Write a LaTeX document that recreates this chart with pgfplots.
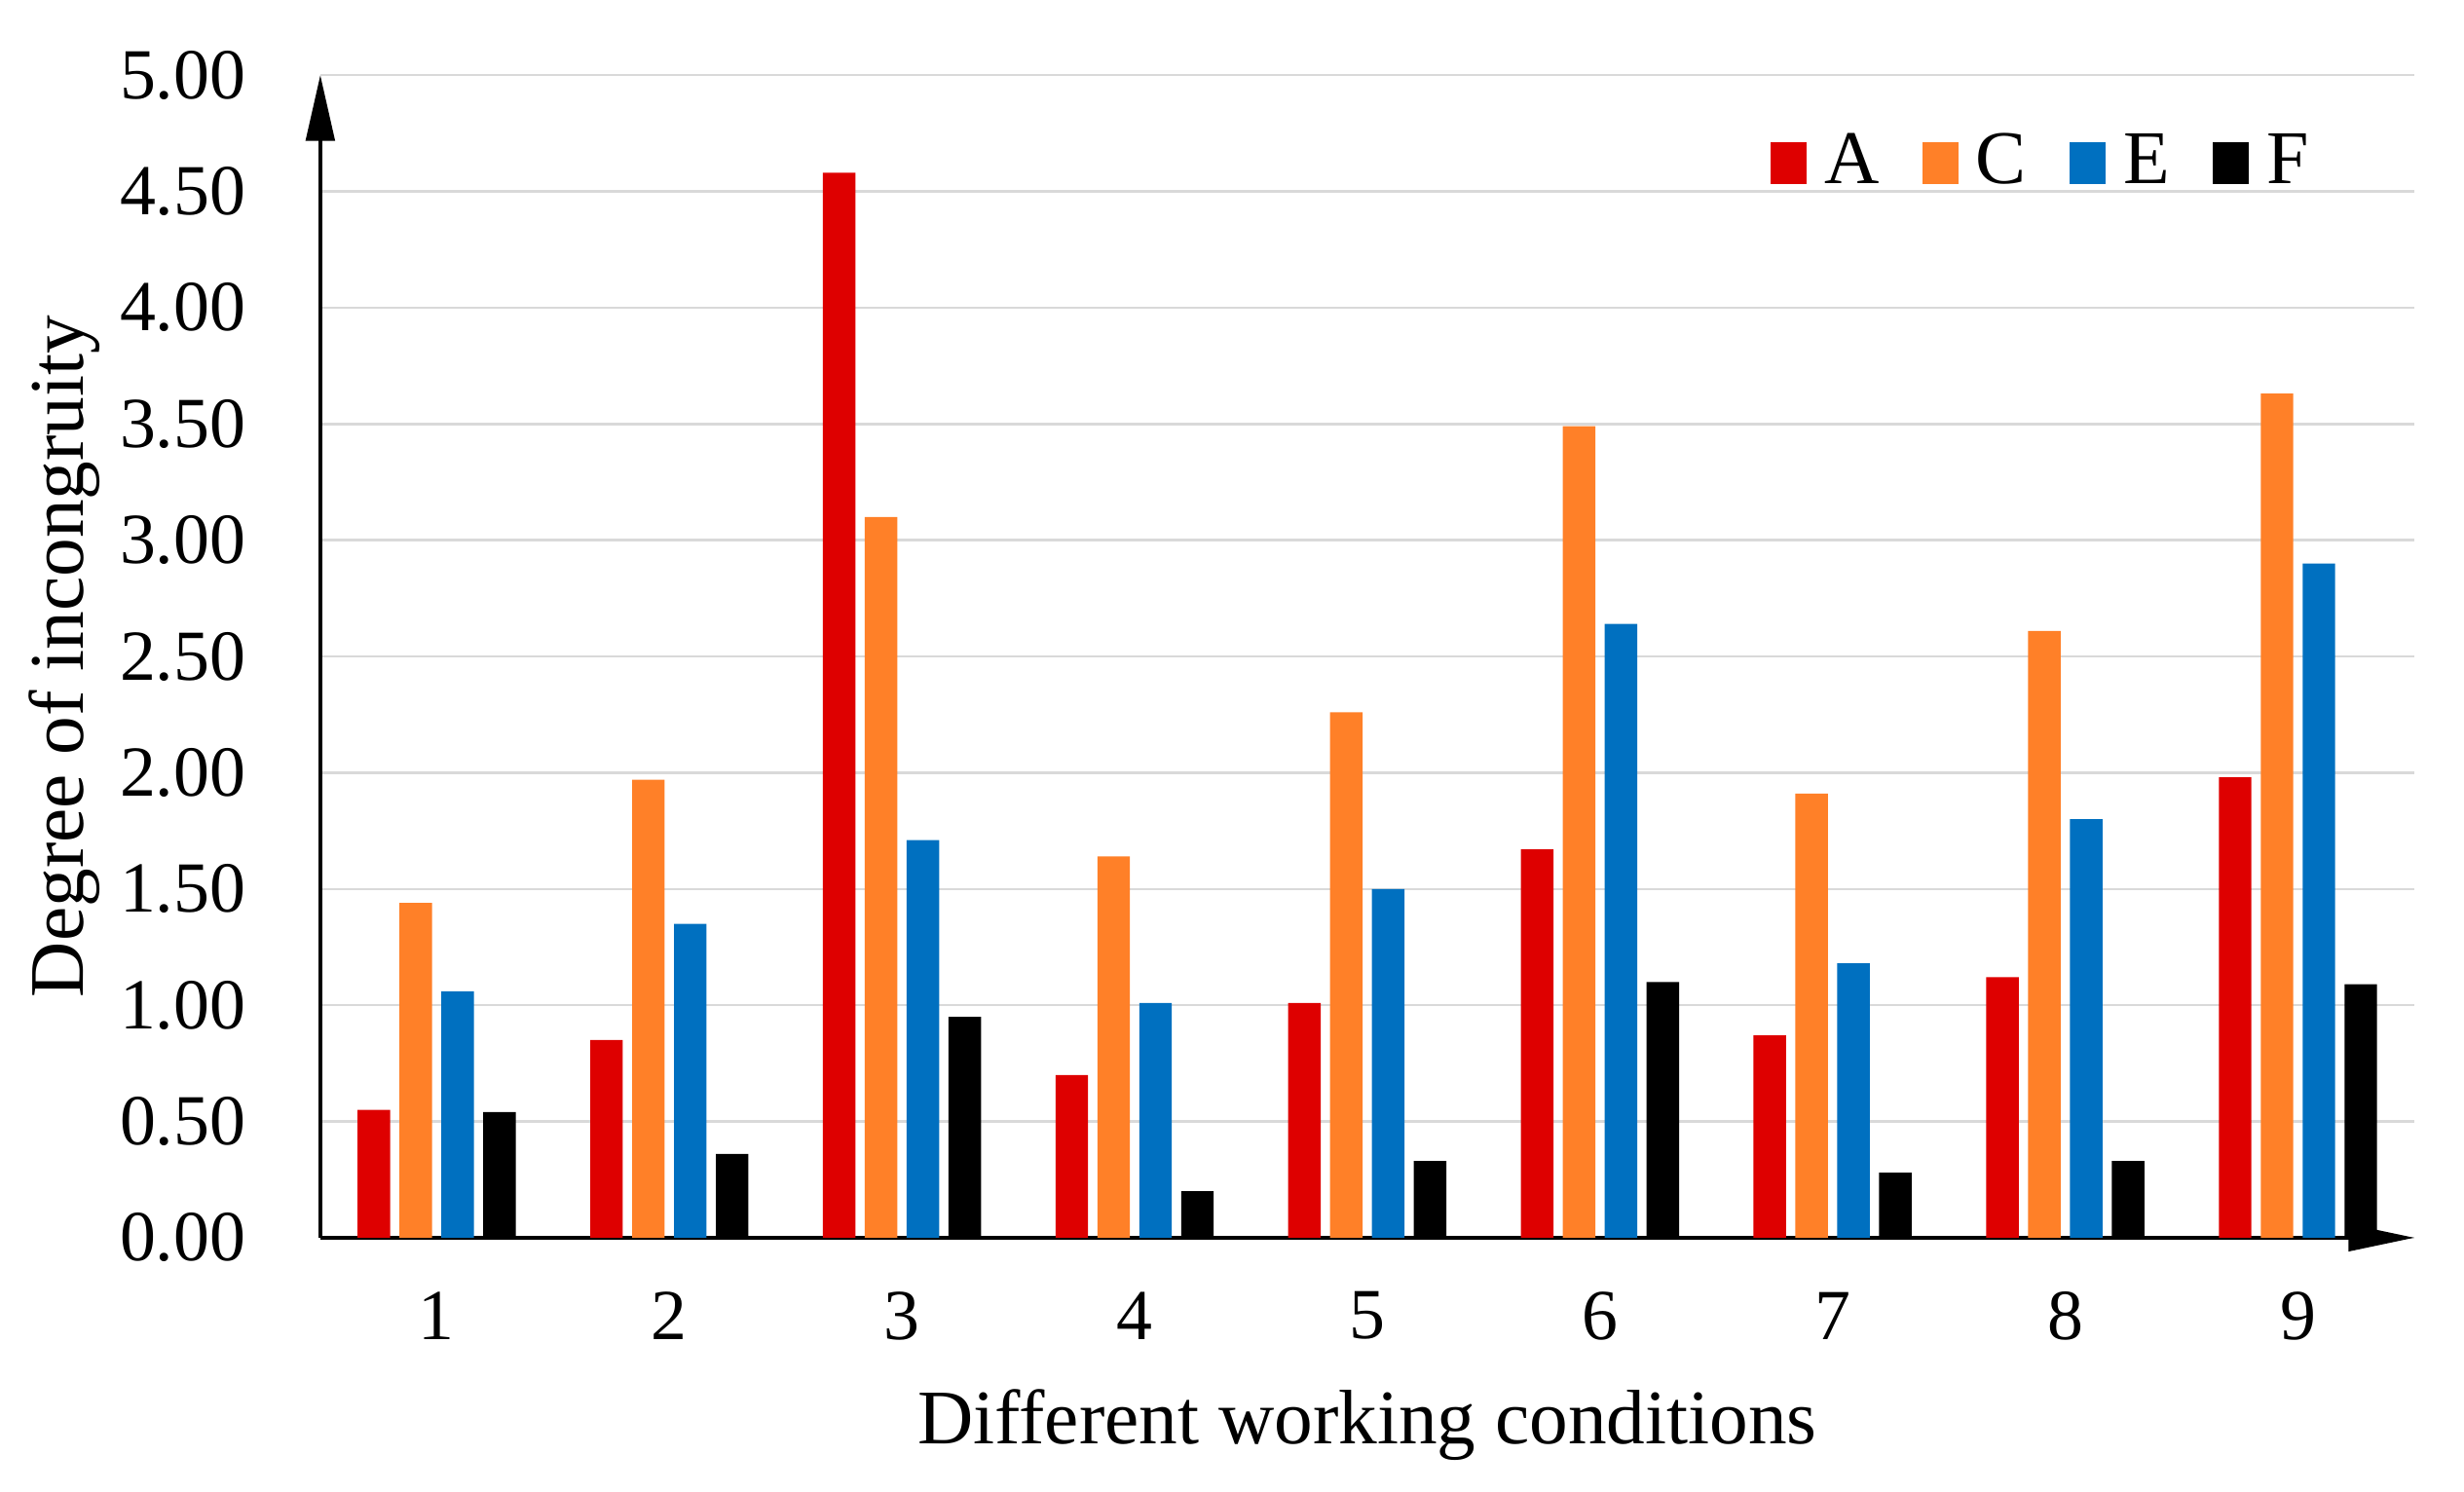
\documentclass[border=0pt]{standalone}
\usepackage{fontspec}
\setmainfont{Liberation Serif}
\usepackage{pgfplots}
\pgfplotsset{compat=1.18}
\usetikzlibrary{arrows.meta}
\definecolor{cA}{RGB}{222,0,0}
\definecolor{cC}{RGB}{255,128,40}
\definecolor{cE}{RGB}{0,112,192}
\definecolor{cF}{RGB}{0,0,0}
\definecolor{gridc}{RGB}{217,217,217}
\begin{document}
\begin{tikzpicture}
\begin{axis}[
  at={(0,0)}, anchor=south west,
  scale only axis, width=509.9pt, height=283.1pt,
  xmin=0.5, xmax=9.5, ymin=0, ymax=5,
  axis lines=left,
  axis line style={line width=0.8pt},
  x axis line style={-{Triangle[length=16pt,width=6.5pt]}},
  y axis line style={-{Triangle[length=16pt,width=7pt]}},
  xtick={1,2,3,4,5,6,7,8,9},
  ytick={0,0.5,1,1.5,2,2.5,3,3.5,4,4.5,5},
  major tick length=0pt,
  ymajorgrids,
  major grid style={gridc, line width=0.6pt},
  /pgf/number format/assume math mode=true,
  yticklabel style={/pgf/number format/fixed, /pgf/number format/fixed zerofill, /pgf/number format/precision=2},
  y tick label style={anchor=east, inner sep=0pt, xshift=-18pt, font=\fontsize{17.5}{20}\selectfont},
  x tick label style={anchor=center, inner sep=0pt, yshift=-19pt, font=\fontsize{17.5}{20}\selectfont},
  xlabel={Different working conditions},
  ylabel={Degree of incongruity},
  x label style={at={(axis description cs:0.5,0)}, anchor=base, yshift=-50.3pt, inner sep=0pt, font=\fontsize{18.8}{22}\selectfont},
  y label style={at={([xshift=-62.4pt]axis description cs:0,0.5)}, anchor=center, inner sep=0pt, font=\fontsize{18.8}{22}\selectfont},
  legend columns=4,
  legend style={at={(axis description cs:0.6925,0.950)}, anchor=north west, draw=none, fill=none, inner sep=0pt, outer sep=0pt,
    column sep=4.3pt, /tikz/every even column/.append style={column sep=10.5pt},
    nodes={inner sep=0pt, font=\fontsize{18.5}{21}\selectfont}},
  legend image code/.code={\fill[#1] (0pt,-5.4pt) rectangle (8.8pt,4.6pt);},
]
\addplot[ybar, bar width=0.14, bar shift=-0.27, fill=cA, draw=none] coordinates
  {(1,0.55) (2,0.85) (3,4.58) (4,0.70) (5,1.01) (6,1.67) (7,0.87) (8,1.12) (9,1.98)};
\addplot[ybar, bar width=0.14, bar shift=-0.09, fill=cC, draw=none] coordinates
  {(1,1.44) (2,1.97) (3,3.10) (4,1.64) (5,2.26) (6,3.49) (7,1.91) (8,2.61) (9,3.63)};
\addplot[ybar, bar width=0.14, bar shift=0.09, fill=cE, draw=none] coordinates
  {(1,1.06) (2,1.35) (3,1.71) (4,1.01) (5,1.50) (6,2.64) (7,1.18) (8,1.80) (9,2.90)};
\addplot[ybar, bar width=0.14, bar shift=0.27, fill=cF, draw=none] coordinates
  {(1,0.54) (2,0.36) (3,0.95) (4,0.20) (5,0.33) (6,1.10) (7,0.28) (8,0.33) (9,1.09)};
\legend{A,C,E,F}
\end{axis}
\pgfresetboundingbox
\useasboundingbox (-78pt,-61.9pt) rectangle (522pt,301.4pt);
\end{tikzpicture}
\end{document}
